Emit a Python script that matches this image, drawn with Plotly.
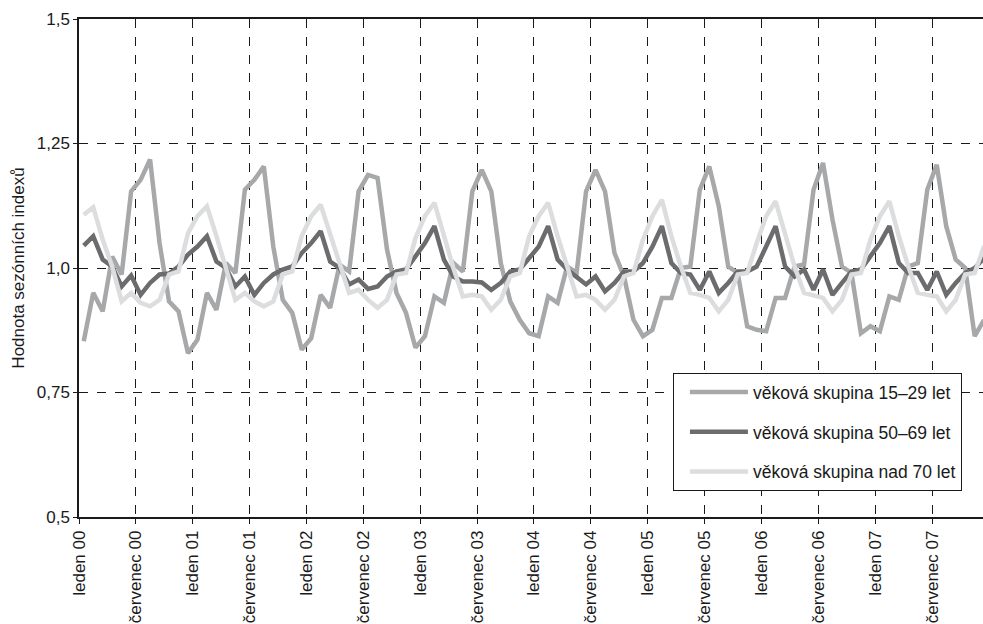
import plotly.graph_objects as go

years = ["00", "01", "02", "03", "04", "05", "06", "07"]
months = list(range(96))
tick_pos = [m - 0.5 for m in range(0, 96, 6)]
tick_text = []
for y in years:
    tick_text += ["leden " + y, "červenec " + y]

names = ["věková skupina 15–29 let", "věková skupina 50–69 let", "věková skupina nad 70 let"]
colors = ["#a7a8aa", "#6c6c6e", "#dcddde"]

s_15_29 = [
    0.853, 0.950, 0.913, 1.023, 0.987, 1.154, 1.177, 1.218, 1.050, 0.933, 0.913, 0.829,
    0.856, 0.950, 0.916, 1.010, 0.990, 1.157, 1.177, 1.204, 1.043, 0.936, 0.910, 0.836,
    0.859, 0.946, 0.920, 1.007, 0.993, 1.154, 1.187, 1.181, 1.037, 0.950, 0.910, 0.840,
    0.863, 0.943, 0.930, 1.010, 0.993, 1.154, 1.197, 1.154, 1.010, 0.933, 0.896, 0.869,
    0.863, 0.943, 0.930, 1.003, 0.990, 1.154, 1.197, 1.154, 1.030, 0.983, 0.896, 0.863,
    0.876, 0.940, 0.940, 1.000, 1.003, 1.157, 1.204, 1.124, 1.003, 0.990, 0.883, 0.876,
    0.873, 0.940, 0.940, 1.003, 1.007, 1.157, 1.211, 1.097, 1.003, 0.990, 0.869, 0.883,
    0.873, 0.943, 0.936, 1.003, 1.010, 1.157, 1.207, 1.084, 1.017, 1.000, 0.863, 0.896,
]
s_50_69 = [
    1.045, 1.064, 1.017, 1.003, 0.963, 0.985, 0.946, 0.970, 0.987, 0.989, 1.003, 1.027,
    1.043, 1.064, 1.013, 1.000, 0.963, 0.983, 0.946, 0.970, 0.987, 0.997, 1.003, 1.030,
    1.050, 1.074, 1.013, 1.000, 0.967, 0.977, 0.958, 0.963, 0.983, 0.993, 0.997, 1.023,
    1.050, 1.084, 1.017, 0.983, 0.973, 0.973, 0.971, 0.956, 0.970, 0.993, 0.997, 1.020,
    1.043, 1.084, 1.017, 0.997, 0.983, 0.967, 0.983, 0.953, 0.970, 0.993, 0.993, 1.010,
    1.043, 1.084, 1.010, 0.990, 0.987, 0.956, 0.993, 0.950, 0.970, 0.993, 0.993, 1.003,
    1.043, 1.084, 1.003, 0.983, 0.997, 0.956, 0.997, 0.946, 0.970, 0.993, 0.997, 1.023,
    1.050, 1.084, 1.010, 0.990, 0.990, 0.956, 0.993, 0.946, 0.970, 0.990, 1.000, 1.020,
]
s_70 = [
    1.107, 1.122, 1.057, 1.003, 0.933, 0.950, 0.930, 0.923, 0.936, 0.987, 0.993, 1.070,
    1.104, 1.124, 1.064, 1.003, 0.936, 0.950, 0.933, 0.923, 0.933, 0.987, 0.993, 1.064,
    1.104, 1.127, 1.067, 1.010, 0.950, 0.956, 0.936, 0.920, 0.936, 0.987, 0.990, 1.060,
    1.104, 1.131, 1.064, 1.000, 0.943, 0.946, 0.943, 0.916, 0.936, 0.983, 0.990, 1.064,
    1.104, 1.131, 1.064, 1.000, 0.943, 0.946, 0.936, 0.916, 0.936, 0.983, 0.990, 1.057,
    1.104, 1.137, 1.064, 1.003, 0.950, 0.946, 0.940, 0.913, 0.936, 0.987, 0.990, 1.050,
    1.104, 1.134, 1.067, 1.003, 0.950, 0.946, 0.940, 0.913, 0.936, 0.987, 0.990, 1.057,
    1.104, 1.134, 1.064, 1.003, 0.950, 0.946, 0.943, 0.913, 0.936, 0.987, 0.990, 1.044,
]

FONT = "Liberation Sans, Arial, sans-serif"

fig = go.Figure()
for i, (name, vals) in enumerate(zip(names, [s_15_29, s_50_69, s_70])):
    fig.add_trace(go.Scatter(
        x=months, y=vals, mode="lines", name=name,
        line=dict(color=colors[i], width=4.5),
        legendgroup="g%d" % i,
    ))

fig.update_layout(
    width=983, height=624,
    margin=dict(l=79, r=0, t=19, b=107),
    paper_bgcolor="white", plot_bgcolor="white",
    font=dict(family=FONT, size=17, color="#1a1a1a"),
    showlegend=True,
    legend=dict(
        x=0.657, y=0.289, xanchor="left", yanchor="top",
        bgcolor="white", bordercolor="#1a1a1a", borderwidth=1,
        font=dict(family=FONT, size=17.5, color="#1a1a1a"),
        itemwidth=58, tracegroupgap=14, indentation=11,
    ),
)
fig.update_xaxes(
    range=[-0.5, 94.88],
    tickmode="array", tickvals=tick_pos, ticktext=tick_text,
    tickangle=-90, tickfont=dict(size=17),
    ticks="outside", ticklen=5, tickcolor="#1a1a1a",
    showgrid=True, gridcolor="#1a1a1a", gridwidth=1, griddash="dash",
    showline=True, linecolor="#1a1a1a", linewidth=1.5, mirror=True,
    zeroline=False,
)
fig.update_yaxes(
    range=[0.5, 1.5],
    tickmode="array", tickvals=[0.5, 0.75, 1.0, 1.25, 1.5],
    ticktext=["0,5", "0,75", "1,0", "1,25", "1,5"],
    tickfont=dict(size=17),
    ticks="outside", ticklen=4, tickcolor="#1a1a1a",
    showgrid=True, gridcolor="#1a1a1a", gridwidth=1, griddash="dash",
    showline=True, linecolor="#1a1a1a", linewidth=1.5,
    zeroline=False,
    title=dict(text="Hodnota sezónních indexů", font=dict(size=17), standoff=8),
)

fig.write_html("out.html")
